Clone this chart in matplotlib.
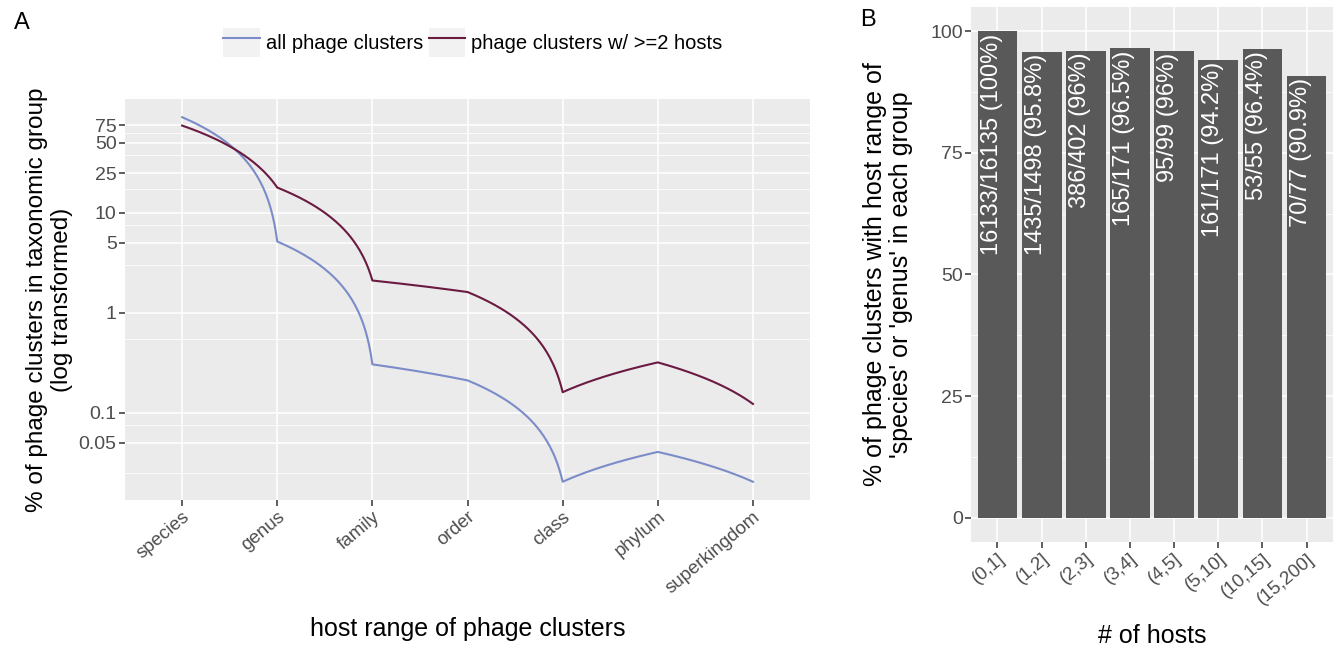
import matplotlib.pyplot as plt
import numpy as np
from matplotlib.patches import Patch
from matplotlib.legend_handler import HandlerTuple

plt.rcParams["font.family"] = ["Liberation Sans", "DejaVu Sans"]

# Panel A data: % of phage clusters per host-range level
ranks = ["species", "genus", "family", "order", "class", "phylum", "superkingdom"]
all_clusters = [90.6, 5.16, 0.304, 0.21, 0.0203, 0.0404, 0.0203]
multi_host = [74.7, 17.9, 2.10, 1.61, 0.160, 0.318, 0.122]
y_breaks_a = [0.05, 0.1, 1, 5, 10, 25, 50, 75]
y_minor_a = [0.025, 0.075, 0.55, 3, 7.5, 17.5, 37.5, 62.5]

# Panel B data
host_bins = ["(0,1]", "(1,2]", "(2,3]", "(3,4]", "(4,5]", "(5,10]", "(10,15]", "(15,200]"]
pct_b = [100, 95.8, 96, 96.5, 96, 94.2, 96.4, 90.9]
labels_b = ["16133/16135 (100%)", "1435/1498 (95.8%)", "386/402 (96%)",
            "165/171 (96.5%)", "95/99 (96%)", "161/171 (94.2%)",
            "53/55 (96.4%)", "70/77 (90.9%)"]

BLUE = "#7b8cc8"
WINE = "#6b1a41"
PANEL = "#ebebeb"
TICK_COL = "#4d4d4d"
TICK_SIZE = 14
TITLE_SIZE = 18
XROT = 40


def munch(xs, ys, n=60):
    """straight segments in data space, like ggplot's coord_trans"""
    px, py = [], []
    for i in range(len(xs) - 1):
        t = np.linspace(0, 1, n, endpoint=False)
        px.append(xs[i] + t * (xs[i + 1] - xs[i]))
        py.append(ys[i] + t * (ys[i + 1] - ys[i]))
    px.append([xs[-1]])
    py.append([ys[-1]])
    return np.concatenate(px), np.concatenate(py)


def gg_style(ax):
    ax.set_facecolor(PANEL)
    for s in ax.spines.values():
        s.set_visible(False)
    ax.tick_params(axis="both", colors="#333333", labelcolor=TICK_COL,
                   length=4, width=1.1, labelsize=TICK_SIZE, pad=2)
    ax.set_axisbelow(True)


fig = plt.figure(figsize=(13.36, 6.49), dpi=100)

# ---- panel A
ax1 = fig.add_axes([0.0936, 0.2296, 0.5127, 0.6179])
gg_style(ax1)
ax1.set_yscale("log")
xpos = np.arange(len(ranks))
lo = np.log10(min(all_clusters + multi_host))
hi = np.log10(max(all_clusters + multi_host))
pad = 0.05 * (hi - lo)
ax1.set_ylim(10 ** (lo - pad), 10 ** (hi + pad))
ax1.set_xlim(-0.6, len(ranks) - 0.4)
for v in y_minor_a:
    ax1.axhline(v, color="white", lw=0.55, zorder=0)
for v in y_breaks_a:
    ax1.axhline(v, color="white", lw=1.1, zorder=0)
for x in xpos:
    ax1.axvline(x, color="white", lw=1.1, zorder=0)
ax1.set_yticks(y_breaks_a)
ax1.set_yticklabels([f"{v:g}" for v in y_breaks_a], fontsize=TICK_SIZE)
ax1.yaxis.set_minor_locator(plt.NullLocator())
ax1.set_xticks(xpos)
ax1.set_xticklabels(ranks, rotation=XROT, ha="right", rotation_mode="anchor",
                    fontsize=13.5)

bx, by = munch(xpos, all_clusters)
rx, ry = munch(xpos, multi_host)
l1, = ax1.plot(bx, by, color=BLUE, lw=1.5, zorder=3)
l2, = ax1.plot(rx, ry, color=WINE, lw=1.5, zorder=3)

ax1.set_xlabel("host range of phage clusters", fontsize=TITLE_SIZE)
ax1.xaxis.set_label_coords(0.5, -0.293)
ax1.set_ylabel("% of phage clusters in taxonomic group\n(log transformed)",
               fontsize=17.5, linespacing=1.15)
ax1.yaxis.set_label_coords(-0.076, 0.5)

key = Patch(facecolor="#f2f2f2", edgecolor="none")
fig.legend([(key, l1), (key, l2)], ["all phage clusters", "phage clusters w/ >=2 hosts"],
           handler_map={tuple: HandlerTuple(ndivide=1, pad=0)},
           loc="center", bbox_to_anchor=(0.354, 0.935), ncol=2, frameon=False,
           fontsize=14.5, handlelength=1.8, handleheight=1.85,
           handletextpad=0.3, columnspacing=0.3, borderaxespad=0)

fig.text(0.0105, 0.982, "A", fontsize=17, va="top", ha="left")

# ---- panel B
ax2 = fig.add_axes([0.7268, 0.1649, 0.2710, 0.8243])
gg_style(ax2)
bpos = np.arange(len(host_bins))
ax2.set_ylim(-5, 105)
ax2.set_xlim(-0.6, len(host_bins) - 0.4)
for v in [12.5, 37.5, 62.5, 87.5]:
    ax2.axhline(v, color="white", lw=0.55, zorder=0)
for v in [0, 25, 50, 75, 100]:
    ax2.axhline(v, color="white", lw=1.1, zorder=0)
for x in bpos:
    ax2.axvline(x, color="white", lw=1.1, zorder=0)
ax2.bar(bpos, pct_b, width=0.9, color="#595959", zorder=2)
for x, v, lab in zip(bpos, pct_b, labels_b):
    ax2.text(x + 0.12, v - 0.4, lab, rotation=90, rotation_mode="anchor",
             ha="right", va="bottom", color="white", fontsize=17, zorder=3)
ax2.set_yticks([0, 25, 50, 75, 100])
ax2.set_yticklabels(["0", "25", "50", "75", "100"], fontsize=TICK_SIZE)
ax2.set_xticks(bpos)
ax2.set_xticklabels(host_bins, rotation=XROT, ha="right", rotation_mode="anchor",
                    fontsize=13.5)
ax2.set_xlabel("# of hosts", fontsize=TITLE_SIZE)
ax2.xaxis.set_label_coords(0.5, -0.153)
ax2.set_ylabel("% of phage clusters with host range of\n'species' or 'genus' in each group",
               fontsize=TITLE_SIZE, linespacing=1.1)
ax2.yaxis.set_label_coords(-0.16, 0.5)

fig.text(0.6437, 0.986, "B", fontsize=17, va="top", ha="left")

fig.savefig("out.png", dpi=100)
